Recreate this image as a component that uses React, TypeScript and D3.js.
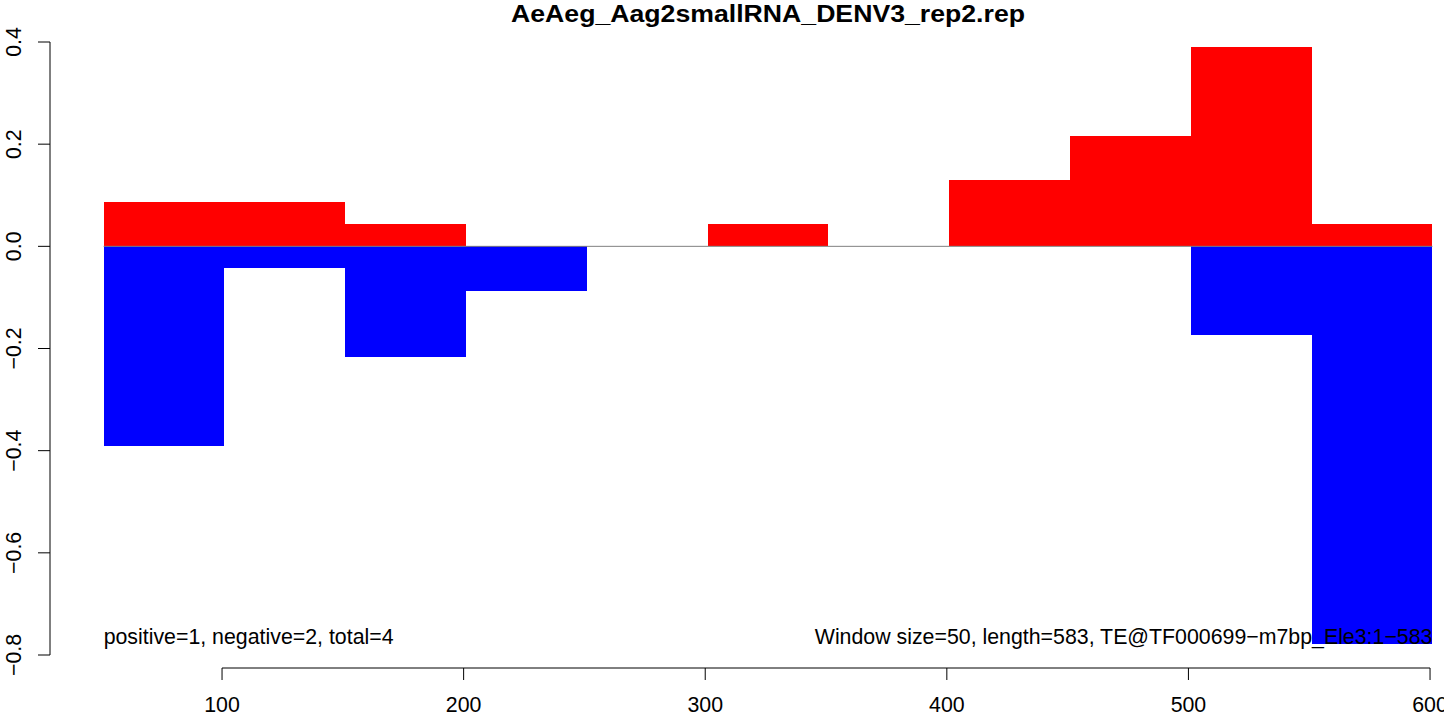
import React from "react";
import * as d3 from "d3";

const title = "AeAeg_Aag2smallRNA_DENV3_rep2.rep";
const windowStarts = [51, 101, 151, 201, 251, 301, 351, 401, 451, 501, 551];
const windowSize = 50;
const positiveValues = [0.087, 0.087, 0.043, 0, 0, 0.043, 0, 0.130, 0.216, 0.390, 0.043];
const negativeValues = [-0.390, -0.043, -0.216, -0.087, 0, 0, 0, 0, 0, -0.173, -0.779];
const xTicks = [100, 200, 300, 400, 500, 600];
const yTicks = [-0.8, -0.6, -0.4, -0.2, 0.0, 0.2, 0.4];
const leftNote = "positive=1, negative=2, total=4";
const rightNote = "Window size=50, length=583, TE@TF000699\u2212m7bp_Ele3:1\u2212583";

const W = 1444;
const H = 716;
const FONT = "'Liberation Sans', Arial, sans-serif";
const FS = 21.33;

export default function App() {
  const x = d3.scaleLinear().domain([29, 623]).range([50.5, 1485.6]);
  const y = d3.scaleLinear().domain([-0.8, 0.4]).range([655, 42]);
  const axisY = 668;
  const axisX = 50;
  const fmt = (v: number) => (v === 0 ? "0.0" : d3.format(".1f")(v).replace("-", "\u2212"));

  return (
    <svg
      width={W}
      height={H}
      style={{ position: "absolute", left: 0, top: 0, background: "#fff" }}
      fontFamily={FONT}
    >
      <rect x={0} y={0} width={W} height={H} fill="#fff" />
      {windowStarts.map((s, i) =>
        positiveValues[i] > 0 ? (
          <rect
            key={"p" + i}
            x={x(s)}
            y={y(positiveValues[i])}
            width={x(s + windowSize) - x(s)}
            height={y(0) - y(positiveValues[i])}
            fill="#ff0000"
            shapeRendering="crispEdges"
          />
        ) : null
      )}
      {windowStarts.map((s, i) =>
        negativeValues[i] < 0 ? (
          <rect
            key={"n" + i}
            x={x(s)}
            y={y(0)}
            width={x(s + windowSize) - x(s)}
            height={y(negativeValues[i]) - y(0)}
            fill="#0000ff"
            shapeRendering="crispEdges"
          />
        ) : null
      )}
      <line
        x1={x(windowStarts[0])}
        x2={x(windowStarts[windowStarts.length - 1] + windowSize)}
        y1={y(0)}
        y2={y(0)}
        stroke="#808080"
        strokeWidth={1}
      />
      <text
        x={768}
        y={21.5}
        textAnchor="middle"
        fontWeight="bold"
        fontSize={23.5}
        fill="#000"
        textLength={514}
        lengthAdjust="spacingAndGlyphs"
      >
        {title}
      </text>
      <line x1={axisX} x2={axisX} y1={y(0.4)} y2={y(-0.8)} stroke="#000" strokeWidth={1} />
      {yTicks.map((t) => (
        <g key={"yt" + t}>
          <line x1={axisX - 12} x2={axisX} y1={y(t)} y2={y(t)} stroke="#000" strokeWidth={1} />
          <text
            transform={`translate(${21},${y(t)}) rotate(-90)`}
            textAnchor="middle"
            fontSize={FS}
            fill="#000"
          >
            {fmt(t)}
          </text>
        </g>
      ))}
      <line x1={x(100)} x2={x(600)} y1={axisY} y2={axisY} stroke="#000" strokeWidth={1} />
      {xTicks.map((t) => (
        <g key={"xt" + t}>
          <line x1={x(t)} x2={x(t)} y1={axisY} y2={axisY + 12} stroke="#000" strokeWidth={1} />
          <text x={x(t)} y={712} textAnchor="middle" fontSize={FS} fill="#000">
            {t}
          </text>
        </g>
      ))}
      <text x={x(windowStarts[0])} y={644} textAnchor="start" fontSize={FS} fill="#000">
        {leftNote}
      </text>
      <text
        x={x(windowStarts[windowStarts.length - 1] + windowSize)}
        y={644}
        textAnchor="end"
        fontSize={FS}
        fill="#000"
      >
        {rightNote}
      </text>
    </svg>
  );
}
